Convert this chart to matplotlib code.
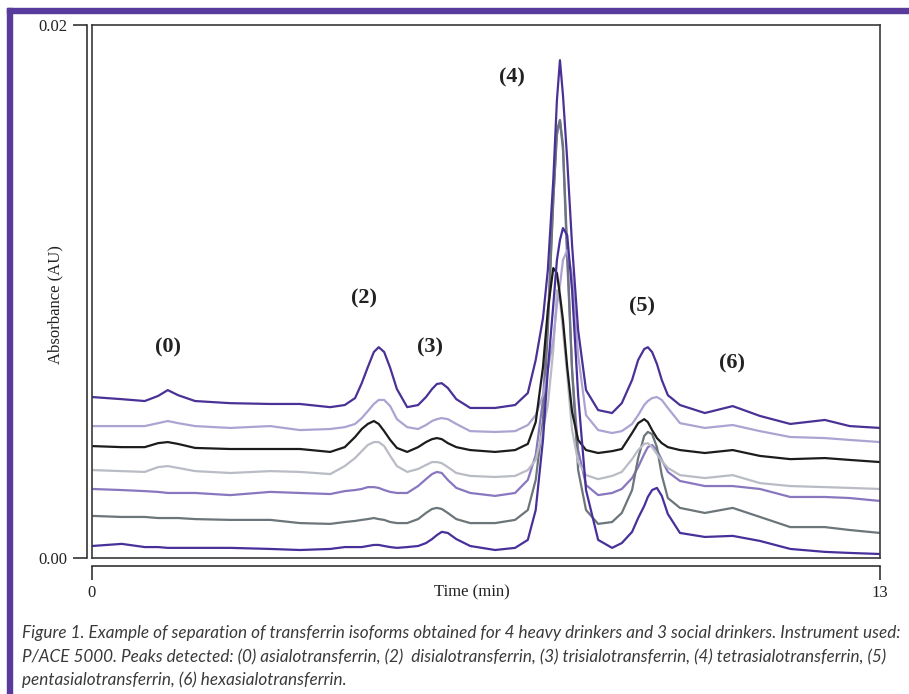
import matplotlib
matplotlib.use("Agg")
import matplotlib.pyplot as plt
from matplotlib.patches import Rectangle

# ---------------- data (time in min, absorbance in mAU) ----------------
time_min = [0.00, 0.49, 0.87, 1.09, 1.25, 1.42, 1.70, 2.28, 2.94, 3.43,
            3.93, 4.17, 4.34, 4.45, 4.55, 4.65, 4.73, 4.82, 4.92, 5.03,
            5.20, 5.38, 5.51, 5.61, 5.69, 5.77, 5.87, 6.01, 6.24, 6.65,
            6.98, 7.19, 7.32, 7.44, 7.52, 7.61, 7.67, 7.72, 7.77, 7.84,
            7.92, 8.02, 8.15, 8.35, 8.58, 8.74, 8.91, 9.01, 9.11, 9.17,
            9.24, 9.32, 9.40, 9.50, 9.70, 10.11, 10.57, 11.02, 11.52, 12.09,
            12.50, 13.00]

trace1_mAU = [6.04, 5.96, 5.89, 6.08, 6.30, 6.11, 5.89, 5.81, 5.78, 5.78,
              5.66, 5.74, 6.00, 6.56, 7.16, 7.73, 7.91, 7.73, 7.13, 6.34,
              5.66, 5.74, 6.04, 6.34, 6.53, 6.56, 6.38, 5.96, 5.63, 5.63,
              5.74, 6.19, 7.43, 9.00, 10.80, 14.18, 17.18, 18.68, 17.36, 14.93,
              11.74, 8.55, 6.30, 5.55, 5.44, 5.81, 6.68, 7.43, 7.84, 7.91,
              7.73, 7.28, 6.68, 6.11, 5.74, 5.44, 5.70, 5.33, 5.03, 5.18,
              4.95, 4.88]
trace2_mAU = [4.95, 4.95, 4.95, 5.06, 5.14, 5.06, 4.95, 4.88, 4.95, 4.80,
              4.84, 4.91, 5.03, 5.25, 5.51, 5.78, 5.93, 5.93, 5.70, 5.21,
              4.91, 4.84, 4.99, 5.14, 5.21, 5.25, 5.21, 5.03, 4.76, 4.73,
              4.76, 4.99, 5.36, 6.11, 7.05, 8.18, 9.49, 10.24, 11.18, 11.55,
              10.61, 7.61, 5.36, 4.80, 4.69, 4.76, 5.03, 5.36, 5.74, 5.89,
              6.00, 6.04, 5.93, 5.63, 5.06, 4.88, 4.99, 4.76, 4.54, 4.50,
              4.43, 4.35]
trace3_mAU = [4.20, 4.16, 4.16, 4.31, 4.35, 4.28, 4.13, 4.09, 4.09, 4.09,
              3.98, 4.16, 4.54, 4.84, 5.03, 5.14, 5.03, 4.76, 4.43, 4.13,
              3.98, 4.16, 4.35, 4.46, 4.50, 4.46, 4.31, 4.16, 4.05, 3.98,
              4.05, 4.28, 5.10, 7.16, 9.30, 10.88, 10.69, 9.86, 8.93, 7.16,
              5.48, 4.43, 4.05, 3.94, 4.01, 4.09, 4.69, 5.06, 5.21, 5.10,
              4.80, 4.50, 4.31, 4.16, 4.05, 3.94, 4.05, 3.83, 3.71, 3.75,
              3.68, 3.60]
trace4_mAU = [3.30, 3.26, 3.23, 3.41, 3.45, 3.38, 3.26, 3.19, 3.26, 3.23,
              3.15, 3.45, 3.75, 4.01, 4.24, 4.35, 4.35, 4.20, 3.83, 3.45,
              3.23, 3.34, 3.49, 3.60, 3.60, 3.56, 3.41, 3.19, 3.08, 3.04,
              3.08, 3.30, 3.68, 4.80, 5.74, 7.80, 10.05, 9.68, 8.55, 6.86,
              4.80, 3.60, 3.11, 2.96, 3.08, 3.23, 3.71, 4.05, 4.28, 4.31,
              4.16, 3.90, 3.64, 3.38, 3.11, 3.00, 3.11, 2.81, 2.70, 2.66,
              2.63, 2.59]
trace5_mAU = [2.59, 2.55, 2.51, 2.48, 2.44, 2.44, 2.44, 2.36, 2.48, 2.44,
              2.40, 2.51, 2.55, 2.59, 2.66, 2.66, 2.63, 2.55, 2.48, 2.44,
              2.44, 2.70, 2.96, 3.15, 3.23, 3.19, 2.93, 2.63, 2.44, 2.33,
              2.44, 2.93, 3.86, 5.93, 8.93, 13.43, 15.86, 16.43, 15.30, 11.18,
              7.05, 4.05, 2.74, 2.36, 2.44, 2.59, 3.00, 3.41, 3.90, 4.16,
              4.24, 4.05, 3.68, 3.23, 2.89, 2.70, 2.70, 2.59, 2.29, 2.29,
              2.25, 2.14]
trace6_mAU = [1.58, 1.54, 1.54, 1.50, 1.50, 1.50, 1.46, 1.43, 1.43, 1.31,
              1.28, 1.35, 1.39, 1.43, 1.46, 1.50, 1.46, 1.43, 1.35, 1.31,
              1.31, 1.46, 1.69, 1.84, 1.88, 1.84, 1.69, 1.46, 1.31, 1.31,
              1.43, 1.80, 2.93, 5.18, 8.55, 13.43, 16.05, 16.43, 15.49, 11.55,
              7.05, 3.30, 1.80, 1.28, 1.35, 1.69, 2.55, 3.75, 4.58, 4.73,
              4.65, 4.16, 3.11, 2.25, 1.88, 1.69, 1.88, 1.54, 1.16, 1.16,
              1.05, 0.94]
trace7_mAU = [0.45, 0.53, 0.41, 0.41, 0.38, 0.38, 0.38, 0.38, 0.34, 0.30,
              0.34, 0.41, 0.41, 0.41, 0.45, 0.49, 0.49, 0.45, 0.41, 0.38,
              0.41, 0.45, 0.56, 0.71, 0.86, 0.98, 0.94, 0.71, 0.45, 0.30,
              0.38, 0.68, 1.80, 4.43, 7.05, 9.49, 11.18, 11.93, 12.38, 12.11,
              10.05, 6.11, 2.55, 0.68, 0.38, 0.56, 0.98, 1.50, 1.95, 2.29,
              2.55, 2.63, 2.33, 1.65, 0.94, 0.79, 0.83, 0.64, 0.34, 0.23,
              0.19, 0.15]

traces = [trace1_mAU, trace2_mAU, trace3_mAU, trace4_mAU,
          trace5_mAU, trace6_mAU, trace7_mAU]
trace_colors = ["#4a3196", "#ada3d2", "#1c1c1c", "#b9bcc4",
                "#8877bf", "#6c7579", "#48309a"]
draw_order = [4, 5, 3, 1, 2, 6, 0]

peak_labels = ["(0)", "(2)", "(3)", "(4)", "(5)", "(6)"]
peak_label_time = [1.25, 4.49, 5.58, 6.93, 9.07, 10.56]
peak_label_mAU = [7.91, 9.75, 7.91, 18.04, 9.45, 7.31]

x_ticks = [0, 13]
x_tick_labels = ["0", "13"]
y_ticks = [0.0, 0.02]
y_tick_labels = ["0.00", "0.02"]

caption_lines = [
    "Figure 1. Example of separation of transferrin isoforms obtained for 4 heavy drinkers and 3 social drinkers. Instrument used:",
    "P/ACE 5000. Peaks detected: (0) asialotransferrin, (2)  disialotransferrin, (3) trisialotransferrin, (4) tetrasialotransferrin, (5)",
    "pentasialotransferrin, (6) hexasialotransferrin.",
]

# ---------------- figure ----------------
W, H = 909, 694
fig = plt.figure(figsize=(W / 100, H / 100), dpi=100)
fig.patch.set_facecolor("white")

frame_color = "#583b9c"
fig.patches.append(Rectangle((7 / W, 1 - 13 / H), 1 - 7 / W, 5 / H,
                             transform=fig.transFigure, color=frame_color, zorder=0))
fig.patches.append(Rectangle((7 / W, 0), 5 / W, 1 - 8 / H,
                             transform=fig.transFigure, color=frame_color, zorder=0))

rect = [92 / W, 1 - 558 / H, 788 / W, 533 / H]
ax = fig.add_axes(rect)
ax.set_xlim(0, 13)
ax.set_ylim(0, 0.02)
ax.set_xticks([])
ax.set_yticks([])
for s in ax.spines.values():
    s.set_linewidth(1.2)
    s.set_color("#3a3a3a")

for i in draw_order:
    ax.plot(time_min, [v / 1000 for v in traces[i]], color=trace_colors[i],
            lw=1.6, solid_joinstyle="round", solid_capstyle="round")

for lab, t, a in zip(peak_labels, peak_label_time, peak_label_mAU):
    ax.text(t, a / 1000, lab, ha="center", va="center", fontsize=16,
            fontweight="bold", fontfamily="Liberation Serif", color="#222222")

# detached axes (R style)
ax2 = fig.add_axes(rect)
ax2.patch.set_visible(False)
ax2.set_xlim(0, 13)
ax2.set_ylim(0, 0.02)
ax2.spines["top"].set_visible(False)
ax2.spines["right"].set_visible(False)
ax2.spines["left"].set_position(("outward", 3.6))
ax2.spines["bottom"].set_position(("outward", 5.8))
for s in ("left", "bottom"):
    ax2.spines[s].set_linewidth(1.1)
    ax2.spines[s].set_color("#222222")
ax2.set_xticks(x_ticks)
ax2.set_xticklabels(x_tick_labels)
ax2.set_yticks(y_ticks)
ax2.set_yticklabels(y_tick_labels)
ax2.tick_params(direction="out", length=10, width=1.1, color="#222222",
                labelsize=12, labelcolor="#222222")
ax2.tick_params(axis="y", pad=4.3)
ax2.tick_params(axis="x", pad=3.5)
for lbl in ax2.get_xticklabels() + ax2.get_yticklabels():
    lbl.set_fontfamily("Liberation Serif")

ax2.text((472 - 92) / 788, -(592 - 558) / 533, "Time (min)", transform=ax2.transAxes,
         ha="center", va="center", fontsize=12, fontfamily="Liberation Serif", color="#222222")
ax2.text((55 - 92) / 788, (558 - 305) / 533, "Absorbance (AU)", transform=ax2.transAxes,
         ha="center", va="center", rotation=90, fontsize=12,
         fontfamily="Liberation Serif", color="#222222")

# caption
renderer = fig.canvas.get_renderer()
cap_y = [633, 657, 680]
texts = []
for line, yy in zip(caption_lines, cap_y):
    t = fig.text(22 / W, 1 - yy / H, line, ha="left", va="center", fontsize=10,
                 fontstyle="italic", fontfamily="Lato", color="#3a3a3a")
    texts.append(t)
w0 = texts[0].get_window_extent(renderer).width
fs = 10 * 875 / w0
for t in texts:
    t.set_fontsize(fs)

fig.savefig("out.png", dpi=100, facecolor="white")
